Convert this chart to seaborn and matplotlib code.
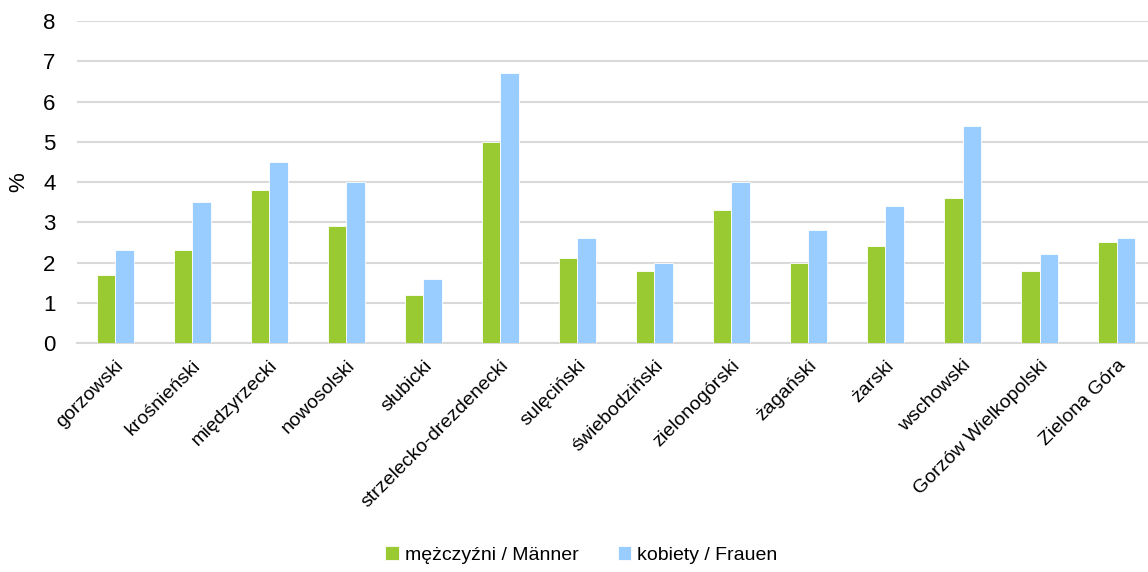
import matplotlib
matplotlib.use("Agg")
import matplotlib.pyplot as plt
import seaborn as sns
import pandas as pd

# Data
districts = [
    "gorzowski", "krośnieński", "międzyrzecki", "nowosolski", "słubicki",
    "strzelecko-drezdenecki", "sulęciński", "świebodziński", "zielonogórski",
    "żagański", "żarski", "wschowski", "Gorzów Wielkopolski", "Zielona Góra",
]
men = [1.7, 2.3, 3.8, 2.9, 1.2, 5.0, 2.1, 1.8, 3.3, 2.0, 2.4, 3.6, 1.8, 2.5]
women = [2.3, 3.5, 4.5, 4.0, 1.6, 6.7, 2.6, 2.0, 4.0, 2.8, 3.4, 5.4, 2.2, 2.6]
series = ["mężczyźni / Männer", "kobiety / Frauen"]
yticks = [0, 1, 2, 3, 4, 5, 6, 7, 8]

df = pd.DataFrame({
    "district": districts * 2,
    "value": men + women,
    "series": [series[0]] * len(men) + [series[1]] * len(women),
})

sns.set_style("white")
plt.rcParams["font.family"] = ["Liberation Sans", "DejaVu Sans"]
plt.rcParams["text.color"] = "black"
plt.rcParams["xtick.color"] = "black"
plt.rcParams["ytick.color"] = "black"
plt.rcParams["axes.labelcolor"] = "black"

fig = plt.figure(figsize=(11.48, 5.72), dpi=100)
ax = fig.add_axes([0.0667, 0.4003, 0.9395, 0.563])

palette = {series[0]: "#9ACA32", series[1]: "#99CCFF"}
sns.barplot(data=df, x="district", y="value", hue="series", palette=palette,
            width=0.48, gap=0, edgecolor="white", linewidth=0.6,
            saturation=1, ax=ax, zorder=3)

ax.set_ylim(0, 8)
ax.set_xlim(-0.5, len(districts) - 0.5)
ax.set_yticks(yticks)
ax.set_yticklabels([str(t) for t in yticks], fontsize=16)
ax.yaxis.grid(True, color="#D9D9D9", linewidth=1.5, zorder=0)
ax.set_axisbelow(True)
for side in ["left", "right", "top"]:
    ax.spines[side].set_visible(False)
ax.spines["bottom"].set_color("#D9D9D9")
ax.spines["bottom"].set_linewidth(1.5)
ax.tick_params(axis="y", length=0, pad=15)
ax.tick_params(axis="x", length=0, pad=10)

ax.set_xticks(range(len(districts)))
ax.set_xticklabels(districts, rotation=45, ha="right", rotation_mode="anchor",
                   fontsize=14)
ax.set_xlabel("")
ax.set_ylabel("%", fontsize=16, labelpad=10)

ax.legend(loc="lower center", bbox_to_anchor=(0.468, -0.74), ncol=2,
          frameon=False, fontsize=14, handlelength=0.7, handleheight=0.7,
          handletextpad=0.3, columnspacing=2.0)

fig.savefig("out.png", dpi=100)
